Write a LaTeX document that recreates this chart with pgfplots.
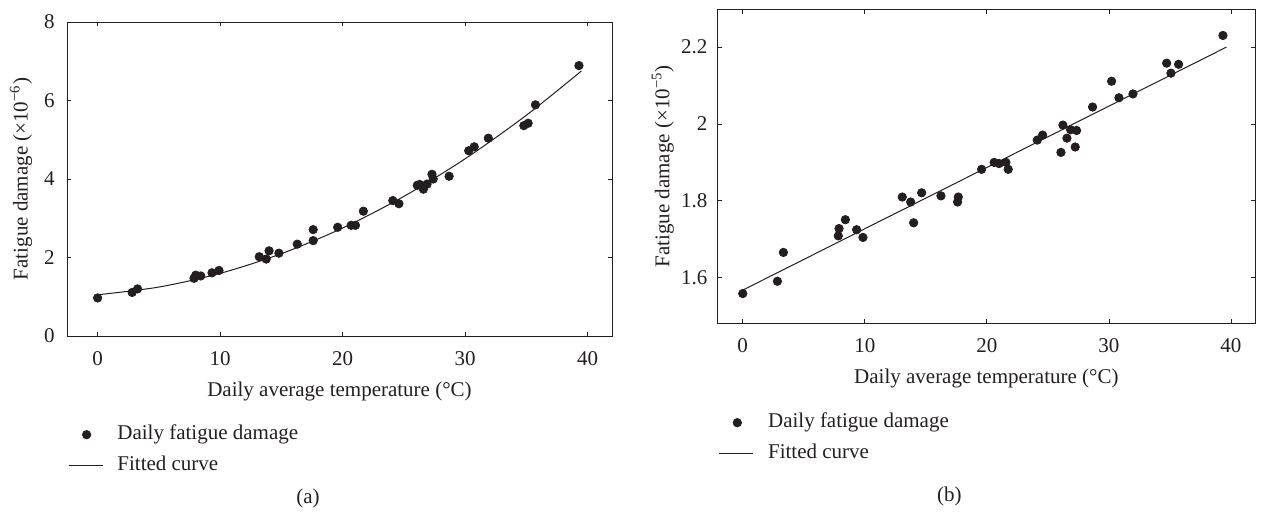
\documentclass[border=0pt]{standalone}
\usepackage{fontspec}
\setmainfont{Liberation Serif}
\usepackage{pgfplots}
\pgfplotsset{compat=1.18}
\definecolor{ink}{RGB}{35,31,32}
\begin{document}
\begin{tikzpicture}[x=1pt,y=1pt]
\path[use as bounding box] (0,0) rectangle (630.5,257);
\pgfplotsset{
 myax/.style={
  scale only axis,
  axis line style={line width=0.5pt,ink},
  tick align=inside,
  major tick length=2pt,
  tick style={ink,line width=0.4pt},
  every tick label/.append style={font=\fontsize{10.5}{12.5}\selectfont,text=ink},
  label style={font=\fontsize{10.5}{12.5}\selectfont,text=ink},
  /pgf/number format/assume math mode=true,
  xtick={0,10,20,30,40},
  yticklabel style={anchor=east,inner sep=0pt},
  legend cell align=left,
  legend style={draw=none,fill=none,inner sep=0pt,anchor=north west,
     font=\fontsize{10.5}{12.5}\selectfont,text=ink,row sep=5.35pt,
     nodes={inner sep=0pt,text height=7.5pt,text depth=2.5pt},
     /tikz/every odd column/.append style={column sep=7.15pt}},
 },
 dots/.style={only marks,mark=*,mark size=2.1pt,mark options={fill=ink,draw=ink},
   legend image code/.code={\draw[mark repeat=2,mark phase=2,##1] plot coordinates {(0pt,0pt) (9pt,0pt) (17pt,0pt)};}},
 fit/.style={ink,line width=0.5pt,no marks,
   legend image code/.code={\draw[##1] (0pt,0pt) -- (17pt,0pt);}},
}
% ---------------- (a)
\begin{axis}[myax,
  at={(33.5pt,89pt)},anchor=south west,
  width=272.5pt,height=157pt,
  xmin=-2.5,xmax=42,ymin=0,ymax=8,
  ytick={0,2,4,6,8},
  xticklabel style={anchor=base,yshift=-14.5pt,inner sep=0pt},
  yticklabel style={xshift=-6pt},
  xlabel={Daily average temperature (°C)},
  ylabel={Fatigue damage (×10\textsuperscript{−6})},
  x label style={at={(axis description cs:0.5,0)},anchor=base,yshift=-30pt},
  y label style={at={(axis description cs:-0.0723,0.5)},anchor=base,rotate=0},
  legend style={at={(axis description cs:0.0013,-0.2812)}},
]
\addplot[dots] coordinates {
(0,0.97) (2.82,1.11) (3.26,1.20) (7.87,1.47) (8.01,1.55) (8.42,1.53)
(9.34,1.61) (9.91,1.67) (13.2,2.02) (13.77,1.96) (14.0,2.17) (14.8,2.11)
(16.3,2.34) (17.6,2.71) (17.6,2.43) (19.6,2.77) (20.7,2.82) (21.05,2.82)
(21.7,3.18) (24.1,3.45) (24.6,3.37) (26.1,3.84) (26.3,3.86) (26.6,3.74)
(26.9,3.87) (27.3,4.12) (27.4,4.00) (28.7,4.07) (30.3,4.72) (30.75,4.82)
(31.9,5.04) (34.8,5.36) (35.15,5.42) (35.75,5.89) (39.3,6.89)
};
\addlegendentry{Daily fatigue damage}
\addplot[fit,smooth] coordinates {
(0,1.05) (5,1.247) (10,1.596) (15,2.097) (20,2.75) (25,3.556) (30,4.514) (35,5.623) (39.5,6.752)
};
\addlegendentry{Fitted curve}
\end{axis}
% ---------------- (b)
\begin{axis}[myax,
  at={(358.85pt,95.4pt)},anchor=south west,
  width=268.65pt,height=156.75pt,
  xmin=-2.05,xmax=41.97,ymin=1.482,ymax=2.297,
  ytick={1.6,1.8,2,2.2},
  xticklabel style={anchor=base,yshift=-14.75pt,inner sep=0pt},
  yticklabel style={xshift=-5pt},
  xlabel={Daily average temperature (°C)},
  ylabel={Fatigue damage (×10\textsuperscript{−5})},
  x label style={at={(axis description cs:0.5,0)},anchor=base,yshift=-30.1pt},
  y label style={at={(axis description cs:-0.09,0.5)},anchor=base,rotate=0},
  legend style={at={(axis description cs:0.0013,-0.2842)}},
]
\addplot[dots] coordinates {
(0,1.559) (2.84,1.591) (3.33,1.666) (7.83,1.709) (7.89,1.728) (8.41,1.751)
(9.33,1.725) (9.85,1.705) (13.07,1.810) (13.76,1.797) (14.0,1.743) (14.66,1.821)
(16.24,1.813) (17.66,1.810) (17.6,1.797) (19.57,1.882) (20.6,1.900) (21.0,1.897)
(21.56,1.900) (21.75,1.882) (24.13,1.958) (24.57,1.971) (26.07,1.926) (26.23,1.997)
(26.56,1.963) (26.86,1.985) (27.35,1.983) (27.24,1.940) (28.66,2.044) (30.22,2.111)
(30.82,2.068) (31.97,2.078) (34.73,2.158) (35.08,2.132) (35.71,2.155) (39.34,2.230)
};
\addlegendentry{Daily fatigue damage}
\addplot[fit] coordinates {(0,1.568) (39.64,2.2)};
\addlegendentry{Fitted curve}
\end{axis}
\node[font=\fontsize{10.5}{12.5}\selectfont,text=ink,anchor=base] at (154,5.25) {(a)};
\node[font=\fontsize{10.5}{12.5}\selectfont,text=ink,anchor=base] at (474.7,6.5) {(b)};
\end{tikzpicture}
\end{document}
